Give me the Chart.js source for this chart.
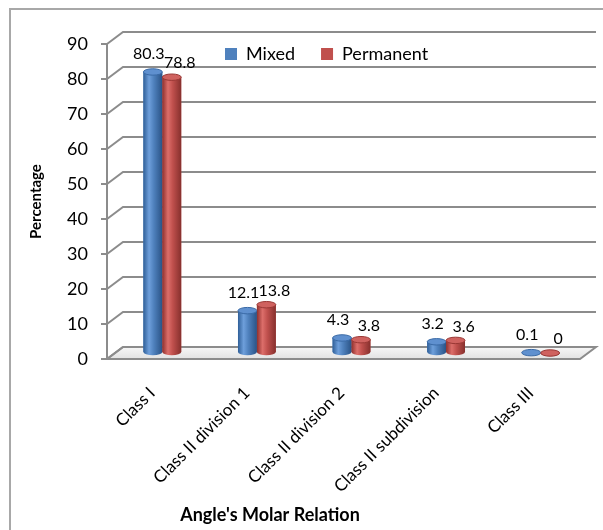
<!DOCTYPE html>
<html>
<head>
<meta charset="utf-8">
<script src="https://cdn.jsdelivr.net/npm/chart.js@4.4.0/dist/chart.umd.min.js"></script>
<style>
  html, body { margin: 0; padding: 0; background: #fff; }
  canvas { display: block; }
</style>
</head>
<body>
<canvas id="chart" width="603" height="530"></canvas>
<script>
// Angle's molar relation, mixed vs permanent dentition (%)
const categories = ['Class I', 'Class II division 1', 'Class II division 2', 'Class II subdivision', 'Class III'];
const mixed = [80.3, 12.1, 4.3, 3.2, 0.1];
const permanent = [78.8, 13.8, 3.8, 3.6, 0];
const seriesNames = ['Mixed', 'Permanent'];
const yMin = 0, yMax = 90, yStep = 10;

const FONT = 'Lato, "Open Sans", "DejaVu Sans", sans-serif';

// depth of the 3-D box (back wall offset) and where the bars sit inside it
const DEPTH_X = 16, DEPTH_Y = -12;
const BAR_DX = 8, BAR_DY = -6;

const palette = {
  blue: { base: '#4f81bd', edgeL: '#2f5f98', light: '#6e9fdb', edgeR: '#2a5386', top: '#5f90cf', rim: '#3a6aa6' },
  red:  { base: '#c0504d', edgeL: '#8f302d', light: '#dc6e6a', edgeR: '#86302d', top: '#cf625f', rim: '#9a3835' }
};
const labelShift = [{ dx: -4, dy: -18 }, { dx: 8, dy: -14 }];

// back wall, side wall ticks and floor
const wallPlugin = {
  id: 'wall',
  beforeDraw(chart) {
    const { ctx, chartArea: a, scales: { y } } = chart;
    ctx.save();
    ctx.fillStyle = '#ffffff';
    ctx.fillRect(0, 0, chart.width, chart.height);

    // outer frame
    ctx.strokeStyle = '#a8a8a8';
    ctx.lineWidth = 2;
    ctx.beginPath();
    ctx.moveTo(10, chart.height);
    ctx.lineTo(10, 9);
    ctx.lineTo(chart.width, 9);
    ctx.stroke();

    // floor slab
    const y0 = y.getPixelForValue(0);
    ctx.beginPath();
    ctx.moveTo(a.left, y0);
    ctx.lineTo(a.right, y0);
    ctx.lineTo(a.right + DEPTH_X, y0 + DEPTH_Y);
    ctx.lineTo(a.left + DEPTH_X, y0 + DEPTH_Y);
    ctx.closePath();
    const fg = ctx.createLinearGradient(0, y0 + DEPTH_Y, 0, y0);
    fg.addColorStop(0, '#f7f7f7');
    fg.addColorStop(1, '#e2e2e2');
    ctx.fillStyle = fg;
    ctx.fill();
    ctx.strokeStyle = '#8c8c8c';
    ctx.lineWidth = 2;
    ctx.stroke();

    // grid lines on the back wall, joined to the front axis
    ctx.beginPath();
    y.ticks.forEach(t => {
      const py = y.getPixelForValue(t.value);
      ctx.moveTo(a.left, py);
      ctx.lineTo(a.left + DEPTH_X, py + DEPTH_Y);
      if (t.value > yMin) ctx.lineTo(a.right + DEPTH_X, py + DEPTH_Y);
    });
    ctx.stroke();
    ctx.restore();
  }
};

function shadeCylinder(ctx, el, c) {
  const { x, y, width, base } = el.getProps(['x', 'y', 'width', 'base'], true);
  const l = x - width / 2, r = x + width / 2, rx = width / 2, ry = width * 0.17;
  const g = ctx.createLinearGradient(l, 0, r, 0);
  g.addColorStop(0, c.edgeL);
  g.addColorStop(0.3, c.light);
  g.addColorStop(0.55, c.base);
  g.addColorStop(1, c.edgeR);
  ctx.beginPath();
  ctx.moveTo(l, y);
  ctx.lineTo(l, base);
  ctx.ellipse(x, base, rx, ry, 0, Math.PI, 0, true);
  ctx.lineTo(r, y);
  ctx.closePath();
  ctx.fillStyle = g;
  ctx.fill();
  ctx.beginPath();
  ctx.ellipse(x, y, rx, ry, 0, 0, Math.PI * 2);
  ctx.fillStyle = c.top;
  ctx.fill();
  ctx.strokeStyle = c.rim;
  ctx.lineWidth = 1;
  ctx.stroke();
}

// bars are drawn half way into the box; shading and value labels follow them
const depthPlugin = {
  id: 'depth',
  beforeDatasetsDraw(chart) {
    chart.ctx.save();
    chart.ctx.translate(BAR_DX, BAR_DY);
  },
  afterDatasetsDraw(chart) {
    const ctx = chart.ctx;
    const cols = [palette.blue, palette.red];
    chart.data.datasets.forEach((ds, di) => {
      const meta = chart.getDatasetMeta(di);
      meta.data.forEach(el => shadeCylinder(ctx, el, cols[di]));
    });
    ctx.font = '16px ' + FONT;
    ctx.fillStyle = '#000';
    ctx.textAlign = 'center';
    ctx.textBaseline = 'middle';
    chart.data.datasets.forEach((ds, di) => {
      const meta = chart.getDatasetMeta(di);
      meta.data.forEach((el, i) => {
        const p = el.getProps(['x', 'y'], true);
        ctx.fillText(String(ds.data[i]), p.x + labelShift[di].dx, p.y + labelShift[di].dy);
      });
    });
    ctx.restore();
  }
};

// legend sits inside the plot, near the top of the back wall
const legendPlacePlugin = {
  id: 'legendPlace',
  afterLayout(chart) {
    const lg = chart.legend;
    if (!lg) return;
    const pad = lg.options.labels.padding;
    const size = lg.options.labels.font.size;
    lg.left = 225 - pad;
    lg.right = lg.left + 360;
    lg.width = 360;
    lg.top = 54 - size / 2 - pad;
    lg.bottom = lg.top + 2 * pad + size + 10;
    lg.height = lg.bottom - lg.top;
  }
};

// category axis title
const xTitlePlugin = {
  id: 'xTitle',
  afterDraw(chart) {
    const ctx = chart.ctx;
    ctx.save();
    ctx.font = 'bold 18px ' + FONT;
    ctx.fillStyle = '#000';
    ctx.textAlign = 'center';
    ctx.textBaseline = 'middle';
    ctx.fillText("Angle's Molar Relation", 270, 515);
    ctx.restore();
  }
};

new Chart(document.getElementById('chart'), {
  type: 'bar',
  data: {
    labels: categories,
    datasets: [
      { label: seriesNames[0], data: mixed, backgroundColor: palette.blue.base, borderWidth: 0 },
      { label: seriesNames[1], data: permanent, backgroundColor: palette.red.base, borderWidth: 0 }
    ]
  },
  options: {
    responsive: false,
    animation: false,
    devicePixelRatio: 1,
    clip: false,
    layout: { padding: { left: 10, right: 23, top: 24, bottom: 0 } },
    datasets: { bar: { categoryPercentage: 0.4, barPercentage: 1.0 } },
    plugins: {
      legend: {
        position: 'top',
        align: 'start',
        maxHeight: 20,
        labels: {
          boxWidth: 12,
          boxHeight: 12,
          padding: 26,
          color: '#000',
          font: { family: FONT, size: 18 }
        }
      },
      tooltip: { enabled: false }
    },
    scales: {
      x: {
        grid: { display: false },
        border: { display: false },
        ticks: {
          color: '#000',
          font: { family: FONT, size: 17 },
          minRotation: 45,
          maxRotation: 45,
          autoSkip: false,
          labelOffset: -2,
          padding: 16
        },
        afterFit(scale) { scale.height = 171; }
      },
      y: {
        min: yMin,
        max: yMax,
        ticks: {
          stepSize: yStep,
          color: '#000',
          font: { family: FONT, size: 18 },
          padding: 13
        },
        grid: {
          display: true,
          drawOnChartArea: false,
          drawTicks: true,
          tickLength: 6,
          color: '#8c8c8c',
          lineWidth: 2
        },
        border: { display: true, color: '#8c8c8c', width: 2 },
        title: {
          display: true,
          text: 'Percentage',
          color: '#000',
          font: { family: FONT, size: 15, weight: 'bold' },
          padding: { top: 17, bottom: 0 }
        },
        afterFit(scale) { scale.width = 97; }
      }
    }
  },
  plugins: [wallPlugin, depthPlugin, legendPlacePlugin, xTitlePlugin]
});
</script>
</body>
</html>
